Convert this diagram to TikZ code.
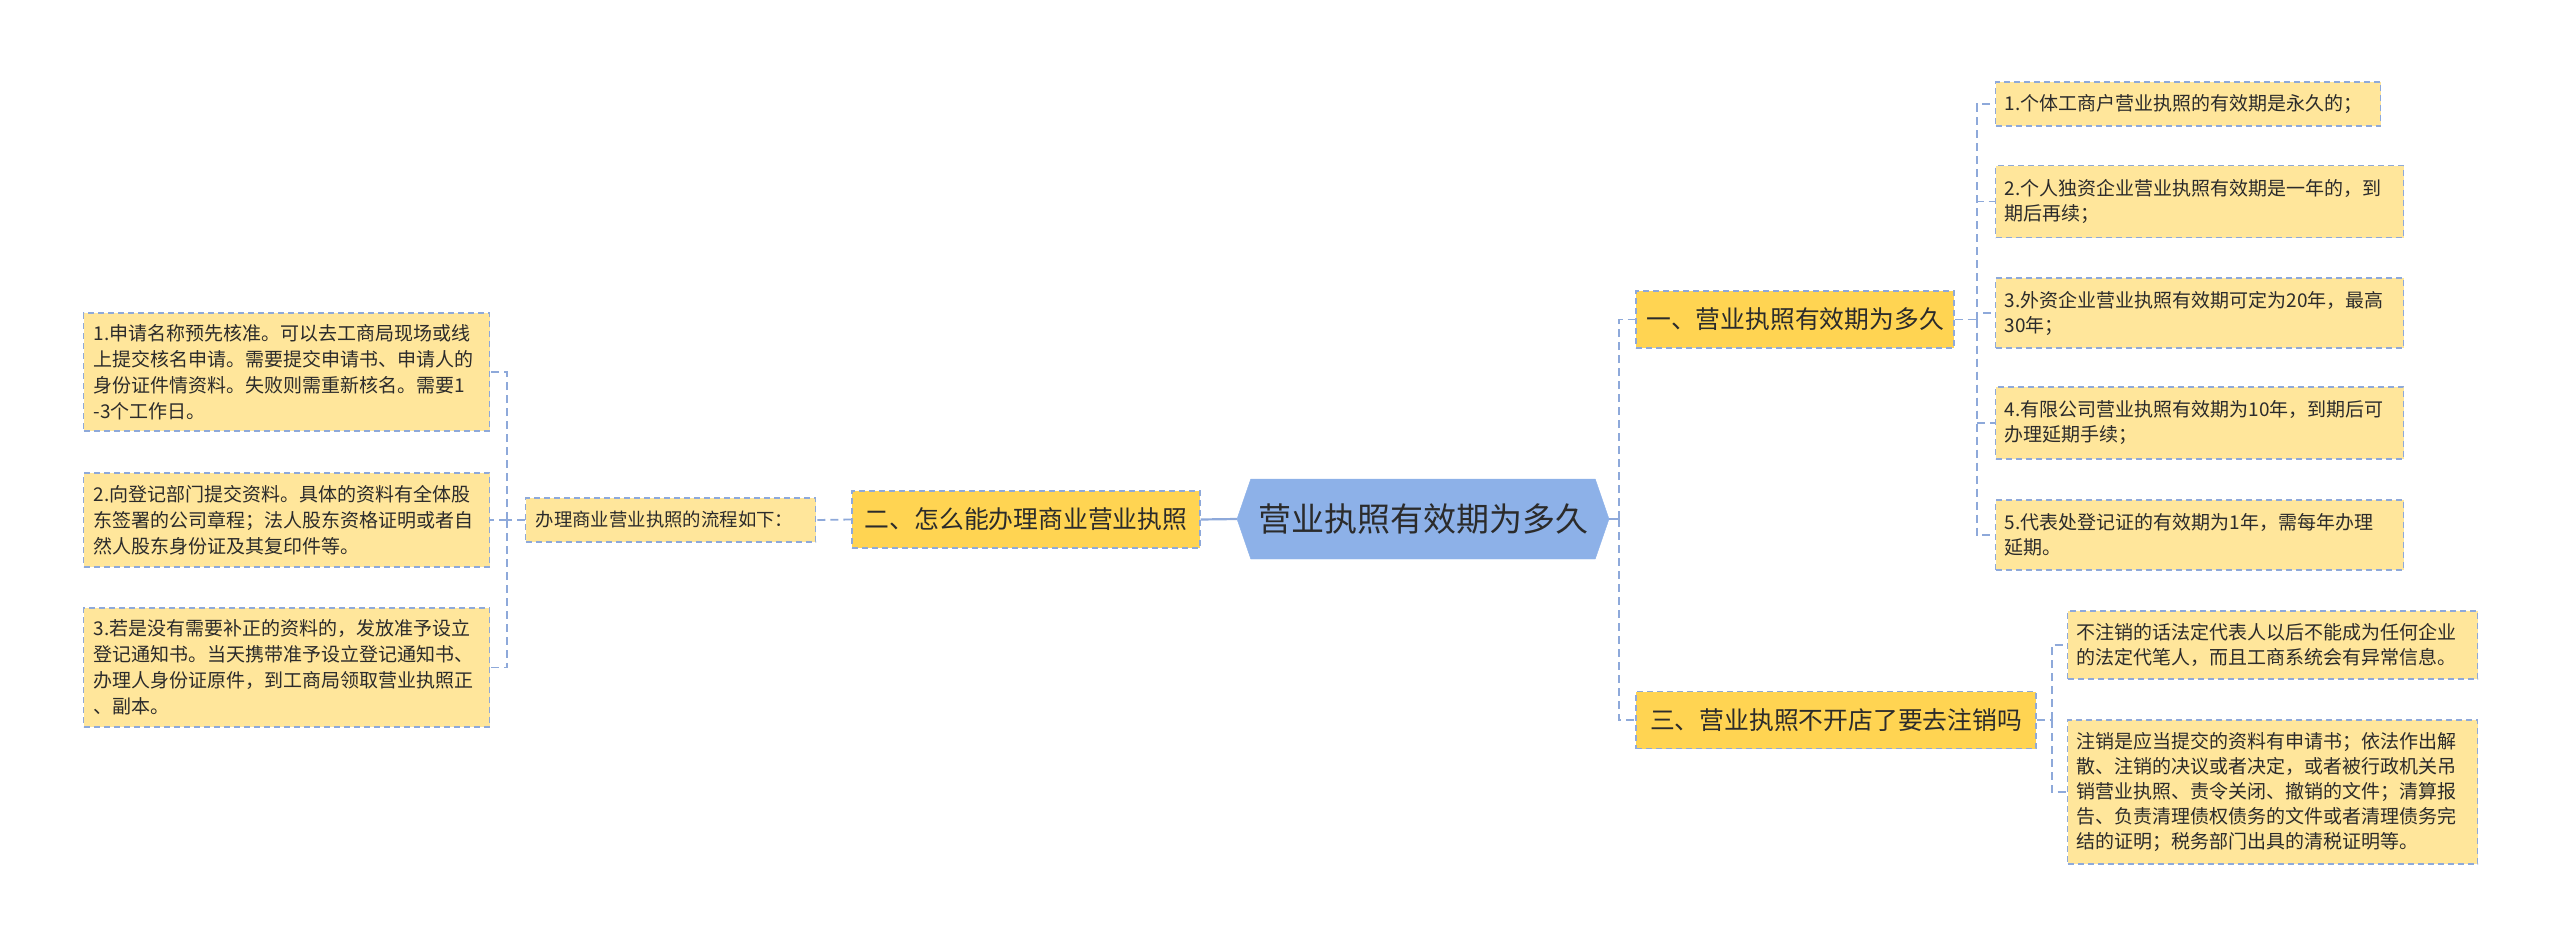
\documentclass[tikz,border=0pt]{standalone}
\usepackage{fontspec}
\setmainfont{Noto Sans CJK SC}
\usetikzlibrary{shapes.symbols}

\definecolor{rootblue}{HTML}{8DB1E8}
\definecolor{gold}{HTML}{FFD452}
\definecolor{pale}{HTML}{FFE69B}
\definecolor{linkblue}{HTML}{8EA9DA}
\definecolor{ink}{HTML}{2B2B2B}

\tikzset{
  rootnode/.style={signal, signal to=west and east, signal pointer angle=142,
    fill=rootblue, draw=rootblue, minimum width=372, minimum height=80,
    inner sep=0pt, text=ink, font=\fontsize{33}{40}\selectfont},
  branch/.style={fill=gold, draw=linkblue, dash pattern=on 6pt off 4pt,
    line width=1.3pt, minimum height=57, inner sep=0pt, text=ink,
    font=\fontsize{24.8}{30}\selectfont},
  leaf/.style={fill=pale, draw=linkblue, dash pattern=on 6pt off 4pt,
    line width=1.3pt, anchor=west, align=left, inner ysep=0pt, text=ink},
  link/.style={draw=linkblue, line width=1.8pt, dash pattern=on 8pt off 5pt},
  rootlink/.style={draw=linkblue, line width=2.2pt}
}

\begin{document}
\begin{tikzpicture}[x=1pt,y=1pt,yscale=-1,xscale=1]
\useasboundingbox (0,0) rectangle (2560,948);

%Root
\node[rootnode] (root) at (1423,519) {营业执照有效期为多久};

%Left branch
\node[branch, minimum width=348] (b2) at (1026,519.5) {二、怎么能办理商业营业执照};
\node[leaf, inner xsep=10pt, text width=270, minimum height=44, font=\fontsize{18.4}{24}\selectfont] (m1) at (525,520) {办理商业营业执照的流程如下：};

% Text Node
\node[leaf, inner xsep=10pt, text width=386, minimum height=118, font=\fontsize{19}{26}\selectfont] (d1) at (83,372)
  {1.申请名称预先核准。可以去工商局现场或线\\上提交核名申请。需要提交申请书、申请人的\\身份证件情资料。失败则需重新核名。需要1\\-3个工作日。};
% Text Node
\node[leaf, inner xsep=10pt, text width=386, minimum height=94, font=\fontsize{19}{26}\selectfont] (d2) at (83,520)
  {2.向登记部门提交资料。具体的资料有全体股\\东签署的公司章程；法人股东资格证明或者自\\然人股东身份证及其复印件等。};
% Text Node
\node[leaf, inner xsep=10pt, text width=386, minimum height=119, font=\fontsize{19}{26}\selectfont] (d3) at (83,667.5)
  {3.若是没有需要补正的资料的，发放准予设立\\登记通知书。当天携带准予设立登记通知书、\\办理人身份证原件，到工商局领取营业执照正\\、副本。};

%Right branch one
\node[branch, minimum width=318] (b1) at (1795,319.5) {一、营业执照有效期为多久};
\node[leaf, inner xsep=9pt, text width=367, minimum height=44, font=\fontsize{19}{25}\selectfont] (l1) at (1995,104)
  {1.个体工商户营业执照的有效期是永久的；};
\node[leaf, inner xsep=9pt, text width=390, minimum height=72, font=\fontsize{19}{25}\selectfont] (l2) at (1995,201.5)
  {2.个人独资企业营业执照有效期是一年的，到\\期后再续；};
\node[leaf, inner xsep=9pt, text width=390, minimum height=70, font=\fontsize{19}{25}\selectfont] (l3) at (1995,313)
  {3.外资企业营业执照有效期可定为20年，最高\\30年；};
\node[leaf, inner xsep=9pt, text width=390, minimum height=72, font=\fontsize{19}{25}\selectfont] (l4) at (1995,423)
  {4.有限公司营业执照有效期为10年，到期后可\\办理延期手续；};
\node[leaf, inner xsep=9pt, text width=390, minimum height=70, font=\fontsize{19}{25}\selectfont] (l5) at (1995,535)
  {5.代表处登记证的有效期为1年，需每年办理\\延期。};

%Right branch three
\node[branch, minimum width=400] (b3) at (1836,720) {三、营业执照不开店了要去注销吗};
\node[leaf, inner xsep=9pt, text width=392, minimum height=68, font=\fontsize{19}{25}\selectfont] (c1) at (2067,645)
  {不注销的话法定代表人以后不能成为任何企业\\的法定代笔人，而且工商系统会有异常信息。};
\node[leaf, inner xsep=9pt, text width=392, minimum height=144, font=\fontsize{19}{25}\selectfont] (c2) at (2067,792)
  {注销是应当提交的资料有申请书；依法作出解\\散、注销的决议或者决定，或者被行政机关吊\\销营业执照、责令关闭、撤销的文件；清算报\\告、负责清理债权债务的文件或者清理债务完\\结的证明；税务部门出具的清税证明等。};

%Connectors
\draw[rootlink] (root.west) -- (b2.east);
\draw[link] (b2.west) -- (m1.east);
\draw[link] (m1.west) -- ++(-18,0) coordinate (lt);
\foreach \n in {d1,d2,d3} \draw[link] (lt) |- (\n.east);

\draw[rootlink] (root.east) -- ++(10,0) coordinate (rt);
\foreach \n in {b1,b3} \draw[link] (rt) |- (\n.west);

\draw[link] (b1.east) -- ++(22,0) coordinate (bt1);
\foreach \n in {l1,l2,l3,l4,l5} \draw[link] (bt1) |- (\n.west);

\draw[link] (b3.east) -- ++(15,0) coordinate (bt3);
\foreach \n in {c1,c2} \draw[link] (bt3) |- (\n.west);

\end{tikzpicture}
\end{document}
